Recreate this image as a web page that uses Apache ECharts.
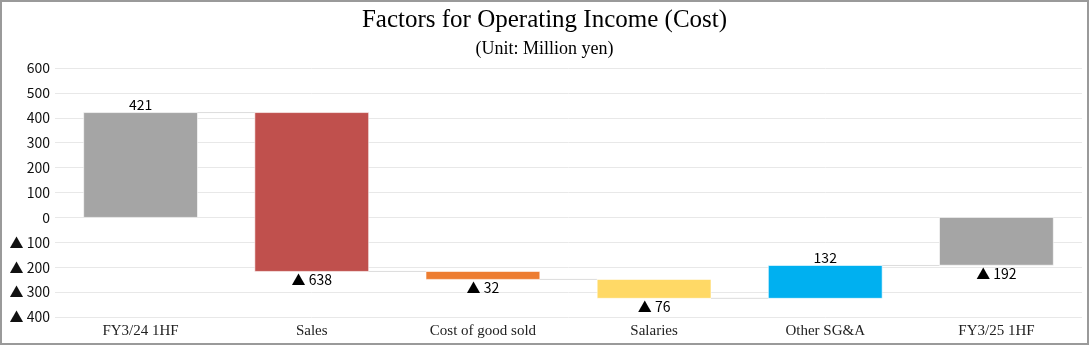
<!DOCTYPE html>
<html>
<head>
<meta charset="utf-8">
<script src="https://cdn.jsdelivr.net/npm/echarts@6/dist/echarts.min.js"></script>
<style>
html,body{margin:0;padding:0;background:#fff;}
#chart{width:1089px;height:345px;}
</style>
</head>
<body>
<div id="chart"></div>
<script>
// ---- data ----
const categories = ['FY3/24 1HF', 'Sales', 'Cost of good sold', 'Salaries', 'Other SG&A', 'FY3/25 1HF'];
const changes = [421, -638, -32, -76, 132, -192];
const isTotal = [true, false, false, false, false, true];
const barColors = ['#A5A5A5', '#C0504D', '#ED7D31', '#FFD966', '#00B0F0', '#A5A5A5'];
const yTicks = [-400, -300, -200, -100, 0, 100, 200, 300, 400, 500, 600];

// build floating bar ranges from the values
const ranges = [];
let run = 0;
changes.forEach((c, i) => {
  let s, e;
  if (isTotal[i]) { s = 0; e = c; run = c; }
  else { s = run; e = run + c; run = e; }
  ranges.push([i, s, e, c]);
});

function fmt(v) { return v < 0 ? '▲ ' + Math.abs(v) : String(v); }
const sansFont = 'Noto Sans CJK JP';

const chart = echarts.init(document.getElementById('chart'), null, {renderer: 'canvas'});
chart.setOption({
  backgroundColor: '#fff',
  animation: false,
  title: [
    {text: 'Factors for Operating Income (Cost)', left: 'center', top: 3,
     textStyle: {fontFamily: 'Liberation Serif', fontSize: 25, fontWeight: 'normal', color: '#000'}},
    {text: '(Unit: Million yen)', left: 'center', top: 35,
     textStyle: {fontFamily: 'Liberation Serif', fontSize: 18, fontWeight: 'normal', color: '#000'}}
  ],
  graphic: [{type: 'rect', shape: {x: 1, y: 1, width: 1087, height: 343},
             style: {fill: 'none', stroke: '#9a9a9a', lineWidth: 2}, silent: true, z: 100}],
  grid: {left: 55, right: 7, top: 68, bottom: 28},
  xAxis: {
    type: 'category', data: categories, boundaryGap: true,
    axisLine: {show: false}, axisTick: {show: false},
    axisLabel: {fontFamily: 'Liberation Serif', fontSize: 15, color: '#222', margin: 7}
  },
  yAxis: {
    type: 'value', min: -400, max: 600, interval: 100,
    axisLine: {show: false}, axisTick: {show: false},
    splitLine: {lineStyle: {color: '#e8e8e8', width: 1}},
    axisLabel: {fontFamily: sansFont, fontSize: 14, color: '#111', margin: 5,
                formatter: v => fmt(v)}
  },
  series: [{
    type: 'custom',
    data: ranges,
    encode: {x: 0, y: [1, 2]},
    renderItem: function (params, api) {
      const i = api.value(0), s = api.value(1), e = api.value(2), c = api.value(3);
      const p1 = api.coord([i, s]);
      const p2 = api.coord([i, e]);
      const bw = api.size([1, 0])[0];
      const w = bw * 0.665;
      const top = Math.min(p1[1], p2[1]);
      const h = Math.abs(p1[1] - p2[1]);
      const children = [{
        type: 'rect',
        shape: {x: p1[0] - w / 2, y: top, width: w, height: h},
        style: {fill: barColors[i], stroke: 'rgba(255,255,255,0.6)', lineWidth: 1}
      }];
      // label
      const above = c >= 0;
      children.push({
        type: 'text',
        style: {
          text: fmt(c), x: p1[0], y: above ? top - 1 : top + h + 1,
          align: 'center', verticalAlign: above ? 'bottom' : 'top',
          fontFamily: sansFont, fontSize: 14, fill: '#000'
        }
      });
      // connector to next bar
      if (i < categories.length - 1) {
        const pn = api.coord([i + 1, e]);
        children.push({
          type: 'line',
          shape: {x1: p1[0] + w / 2, y1: p2[1], x2: pn[0] - w / 2, y2: pn[1]},
          style: {stroke: '#dcdcdc', lineWidth: 1}
        });
      }
      return {type: 'group', children: children};
    }
  }]
});
</script>
</body>
</html>
